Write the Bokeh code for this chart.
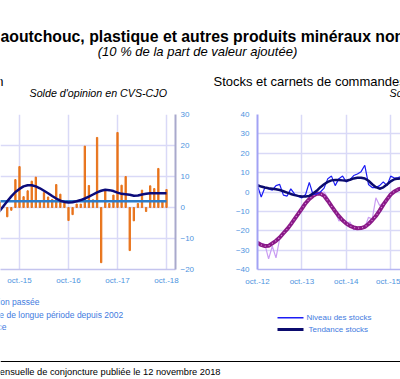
import pandas as pd
from bokeh.plotting import figure
from bokeh.layouts import column, row
from bokeh.models import Range1d, FixedTicker
from bokeh.core.properties import value
from bokeh.embed import file_html
from bokeh.resources import INLINE

FONT = "Liberation Sans"

# ---------------- data : left panel (Production) ----------------
prod_months = pd.period_range("2015-05", "2018-10", freq="M")
production_passee = [1.8, 0.3, -3.0, -0.9, 9.0, 13.2, 3.5, 5.4, 8.5, 9.8,
                     1.8, 4.8, 3.4, 2.6, 7.4, 4.3, 1.6, -4.2, -2.3, 1.1,
                     1.1, 19.8, 7.1, 2.5, 22.6, -17.8, 5.8, 1.3, 4.0, 24.2,
                     7.2, 10.0, -13.9, -4.3, 1.3, 5.6, -1.3, 7.0, 6.1, 12.6,
                     1.8, 5.8]
tendance_prod = [-1.4, 0.3, 2.0, 3.6, 5.0, 6.0, 6.8, 7.2, 7.2, 6.8,
                 6.2, 5.4, 4.6, 3.7, 2.9, 2.2, 1.8, 1.6, 1.7, 2.0,
                 2.4, 2.9, 3.5, 4.2, 4.9, 5.4, 5.7, 5.6, 5.3, 4.8,
                 4.4, 4.3, 4.1, 3.8, 3.9, 4.2, 4.4, 4.6, 4.6, 4.6,
                 4.6, 4.6]
moyenne_longue_periode = 2.0
prod_tick_months = ["2015-10", "2016-10", "2017-10", "2018-10"]
prod_tick_labels = ["oct.-15", "oct.-16", "oct.-17", "oct.-18"]
prod_y_ticks = [-20, -10, 0, 10, 20, 30]

# ---------------- data : right panel (Stocks et carnets) ----------------
stock_months = pd.period_range("2012-10", "2016-01", freq="M")
niveau_stocks = [3.3, -2.6, 2.3, 1.6, 1.0, 3.3, 3.9, -1.6, -2.1, 1.6,
                 -1.0, -2.3, -3.0, -1.3, 5.0, -1.3, -1.0, 0.0, 2.0, 6.9,
                 8.2, 3.3, 6.9, 8.2, 5.2, 6.4, 8.5, 9.3, 10.5, 13.8,
                 3.9, 2.3, 2.3, 3.3, 5.2, 3.3, 8.2, 7.2, 7.5, 8.0]
tendance_stocks = [3.5, 2.8, 2.3, 1.9, 1.7, 1.4, 1.0, 0.4, -0.3, -1.0,
                   -1.6, -2.0, -2.3, -2.3, -2.0, -0.8, 0.6, 2.5, 4.0, 5.2,
                   6.0, 6.2, 6.2, 6.0, 5.8, 6.3, 7.0, 7.3, 7.4, 7.0,
                   5.8, 4.0, 2.5, 1.7, 2.4, 3.9, 5.5, 6.6, 6.9, 7.0]
carnets = [-26.0, -26.5, -27.0, -34.5, -28.0, -34.0, -24.0, -21.5, -19.0, -16.5,
           -14.0, -11.0, -8.5, -6.0, -3.5, -2.0, -1.0, -0.5, 0.0, -3.0,
           -7.0, -10.0, -15.0, -14.0, -16.0, -15.5, -19.5, -19.0, -18.5, -18.5,
           -13.0, -14.0, -3.0, -7.0, -6.0, -3.5, -1.0, 0.5, 1.5, 2.2]
tendance_carnets = [-26.2, -27.3, -27.9, -27.8, -26.5, -25.2, -23.5, -21.3, -19.2, -16.7,
                    -14.0, -11.3, -8.6, -5.8, -3.6, -2.0, -0.9, -0.9, -2.0, -4.5,
                    -7.3, -10.0, -12.5, -14.6, -16.3, -17.5, -18.3, -18.7, -18.6, -18.0,
                    -16.5, -14.6, -12.4, -9.6, -6.5, -3.8, -1.3, 0.3, 1.3, 2.0]
stock_tick_months = ["2012-10", "2013-10", "2014-10", "2015-10"]
stock_tick_labels = ["oct.-12", "oct.-13", "oct.-14", "oct.-15"]
stock_y_ticks = [-40, -30, -20, -10, 0, 10, 20, 30, 40]


def month_index(periods, origin):
    o = pd.Period(origin, freq="M")
    return [(p.year - o.year) * 12 + (p.month - o.month) for p in periods]


px = month_index(prod_months, "2015-10")
sx = month_index(stock_months, "2012-10")
prod_ticks = month_index([pd.Period(m, freq="M") for m in prod_tick_months], "2015-10")
stock_ticks = month_index([pd.Period(m, freq="M") for m in stock_tick_months], "2012-10")

GRID = "#d9d9f7"
TICK_BLUE = "#4d94e0"
LEG_BLUE = "#3f7be0"


def style_axes(fig):
    for ax in fig.axis:
        ax.major_tick_in = 0
        ax.major_tick_out = 0
        ax.minor_tick_line_color = None
        ax.major_tick_line_color = None
        ax.major_label_text_color = TICK_BLUE
        ax.major_label_text_font = FONT
        ax.major_label_text_font_size = "8px"
    fig.grid.grid_line_color = GRID
    fig.grid.grid_line_width = 1.5
    fig.outline_line_color = None


# ---------------- left panel ----------------
left = figure(width=210, height=192, x_range=Range1d(-4.65, 38.2), y_range=Range1d(-20, 30),
              y_axis_location="right", output_backend="svg", toolbar_location=None,
              min_border_left=0, min_border_right=35, min_border_top=8, min_border_bottom=27)
left.vbar(x=px, top=production_passee, bottom=0, width=0.32, color="#e8731a")
left.line(px, [moyenne_longue_periode] * len(px), line_color="#2b7bc9", line_width=2.5)
left.line(px, tendance_prod, line_color="#0b0b7a", line_width=2.5)
left.xaxis.ticker = FixedTicker(ticks=prod_ticks)
left.xgrid.ticker = FixedTicker(ticks=prod_ticks)
left.xaxis.major_label_overrides = dict(zip(prod_ticks, prod_tick_labels))
left.yaxis.ticker = FixedTicker(ticks=prod_y_ticks)
left.ygrid.ticker = FixedTicker(ticks=prod_y_ticks)
style_axes(left)
left.yaxis.axis_line_color = "#a9a9cc"
left.yaxis.axis_line_width = 2
left.yaxis.major_label_standoff = 5
left.xaxis.axis_line_color = "#c4c4ee"
left.xaxis.axis_line_width = 1.5
left.xaxis.major_label_standoff = 6

# ---------------- right panel ----------------
right = figure(width=190, height=192, x_range=Range1d(0, 38.65), y_range=Range1d(-40, 40),
               output_backend="svg", toolbar_location=None,
               min_border_left=47, min_border_right=0, min_border_top=10, min_border_bottom=22)
right.line(sx, carnets, line_color="#c99cf2", line_width=1.2)
right.line(sx, tendance_carnets, line_color="#8a1a88", line_width=4)
right.line(sx, tendance_carnets, line_color="#d88ad6", line_width=1.2, line_dash="1 3")
right.line(sx, niveau_stocks, line_color="#1c1cf5", line_width=1.2)
right.line(sx, tendance_stocks, line_color="#0b0b6e", line_width=2.5)
right.xaxis.ticker = FixedTicker(ticks=stock_ticks)
right.xgrid.ticker = FixedTicker(ticks=stock_ticks)
right.xaxis.major_label_overrides = dict(zip(stock_ticks, stock_tick_labels))
right.yaxis.ticker = FixedTicker(ticks=stock_y_ticks)
right.ygrid.ticker = FixedTicker(ticks=stock_y_ticks)
style_axes(right)
right.yaxis.axis_line_color = "#a2a2f4"
right.yaxis.axis_line_width = 2
right.yaxis.major_label_standoff = 8
right.xaxis.axis_line_color = "#b4b4f2"
right.xaxis.axis_line_width = 1.5
right.xaxis.major_label_standoff = 7


def canvas(h):
    f = figure(width=400, height=h, x_range=Range1d(0, 400), y_range=Range1d(h, 0),
               output_backend="svg", toolbar_location=None, min_border=0,
               x_axis_location=None, y_axis_location=None)
    f.grid.visible = False
    f.outline_line_color = None
    return f


# ---------------- header ----------------
header = canvas(104)
header.text(x=[-11.4], y=[35.7],
            text=["Caoutchouc, plastique et autres produits minéraux non métalliques"],
            text_font=value(FONT), text_font_size=value("15.8px"), text_font_style="bold",
            text_color="#000000", text_align="left", text_baseline="alphabetic")
header.text(x=[197], y=[50.5], text=["(10 % de la part de valeur ajoutée)"],
            text_font=value(FONT), text_font_size=value("13px"), text_font_style="italic",
            text_color="#000000", text_align="center", text_baseline="alphabetic")
header.text(x=[3], y=[80.5], text=["Production"],
            text_font=value(FONT), text_font_size=value("13px"),
            text_color="#000000", text_align="right", text_baseline="alphabetic")
header.text(x=[213], y=[80.5], text=["Stocks et carnets de commandes"],
            text_font=value(FONT), text_font_size=value("13px"),
            text_color="#000000", text_align="left", text_baseline="alphabetic")
header.text(x=[29, 389], y=[92, 92],
            text=["Solde d'opinion en CVS-CJO", "Solde d'opinion en CVS-CJO"],
            text_font=value(FONT), text_font_size=value("10.7px"), text_font_style="italic",
            text_color="#000000", text_align="left", text_baseline="alphabetic")

# ---------------- footer (legends + source) ----------------
footer = canvas(83)
footer.text(x=[39, 122.7, 6], y=[5.7, 18, 30],
            text=["Production passée", "Moyenne de longue période depuis 2002", "Tendance"],
            text_font=value(FONT), text_font_size=value("8.5px"),
            text_color=LEG_BLUE, text_align="right", text_baseline="middle")
footer.segment(x0=[277], y0=[21.3], x1=[303], y1=[21.3], line_color="#1c1cf5", line_width=1.5)
footer.segment(x0=[277], y0=[33], x1=[303], y1=[33], line_color="#0b0b6e", line_width=3)
footer.text(x=[306, 308], y=[21.3, 33], text=["Niveau des stocks", "Tendance stocks"],
            text_font=value(FONT), text_font_size=value("8px"),
            text_color=LEG_BLUE, text_align="left", text_baseline="middle")
footer.segment(x0=[0], y0=[65], x1=[400], y1=[65], line_color="#000000", line_width=1)
footer.text(x=[220], y=[75], text=["Source : Banque de France, enquête mensuelle de conjoncture publiée le 12 novembre 2018"],
            text_font=value(FONT), text_font_size=value("9.3px"),
            text_color="#000000", text_align="right", text_baseline="alphabetic")

layout = column(header, row(left, right), footer)
open("out.html", "w").write(file_html(layout, INLINE))
